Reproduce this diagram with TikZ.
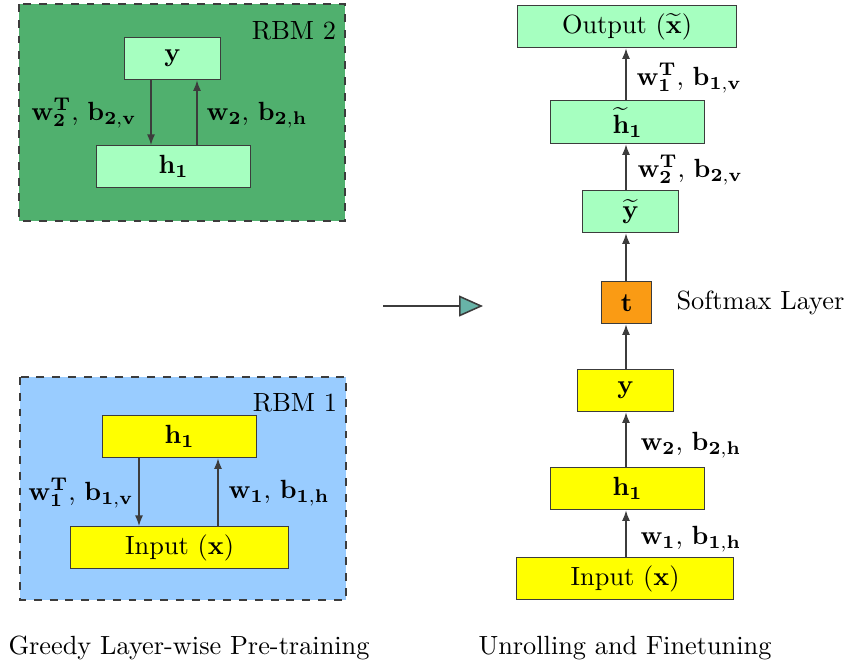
\documentclass[tikz,border=0pt]{standalone}
\usetikzlibrary{arrows.meta}
\definecolor{rbmgreen}{RGB}{80,176,110}
\definecolor{rbmblue}{RGB}{153,204,255}
\definecolor{lgreen}{RGB}{166,255,192}
\definecolor{lyellow}{RGB}{255,255,0}
\definecolor{torange}{RGB}{250,155,20}
\definecolor{teal2}{RGB}{104,180,168}
\definecolor{edgegray}{RGB}{60,60,60}
\tikzset{
  px/.style={x=0.38pt,y=-0.38pt},
  rbmpanel/.style={draw=edgegray,dashed,line width=0.6pt},
  layerbox/.style={draw=edgegray,line width=0.5pt,inner sep=0pt,anchor=north west},
  conn/.style={draw=edgegray,line width=0.5pt,-{Latex[length=4pt,width=3pt]}},
  lab/.style={inner sep=0pt},
}
\begin{document}
\begin{tikzpicture}[px]
\useasboundingbox (0,0) rectangle (847,666);
% panels
\draw[rbmpanel,fill=rbmgreen] (19,4) rectangle (345,221);
\draw[rbmpanel,fill=rbmblue] (20,377) rectangle (346,600);
\node[lab] (rbm2) at (294,31) {RBM 2};
\node[lab] (rbm1) at (295,403) {RBM 1};
% RBM 2
\node[layerbox,fill=lgreen,minimum width=96*0.38pt,minimum height=42*0.38pt] (ry) at (124,37) {$\mathbf{y}$};
\node[layerbox,fill=lgreen,minimum width=154*0.38pt,minimum height=42*0.38pt] (rh2) at (96,145) {$\mathbf{h_1}$};
\draw[conn] (ry.south -| 151,0) -- (rh2.north -| 151,0);
\draw[conn] (rh2.north -| 197,0) -- (ry.south -| 197,0);
\node[lab] (l2v) at (84,113) {$\mathbf{w_2^T}$, $\mathbf{b_{2,v}}$};
\node[lab] (l2h) at (257,115) {$\mathbf{w_2}$, $\mathbf{b_{2,h}}$};
% RBM 1
\node[layerbox,fill=lyellow,minimum width=154*0.38pt,minimum height=42*0.38pt] (rh1) at (102,415) {$\mathbf{h_1}$};
\node[layerbox,fill=lyellow,minimum width=218*0.38pt,minimum height=42*0.38pt] (rin) at (70,526) {Input ($\mathbf{x}$)};
\draw[conn] (rh1.south -| 139,0) -- (rin.north -| 139,0);
\draw[conn] (rin.north -| 218,0) -- (rh1.south -| 218,0);
\node[lab] (l1v) at (81,493) {$\mathbf{w_1^T}$, $\mathbf{b_{1,v}}$};
\node[lab] (l1h) at (279,493) {$\mathbf{w_1}$, $\mathbf{b_{1,h}}$};
% middle arrow
\coordinate (ma) at (383,306);
\coordinate (mb) at (483,306);
\draw[edgegray,line width=0.6pt,-{Triangle[length=24*0.38pt,width=21*0.38pt,fill=teal2]}] (ma) -- (mb);
% right column
\node[layerbox,fill=lgreen,minimum width=219*0.38pt,minimum height=42*0.38pt] (out) at (517,5) {Output ($\widetilde{\mathbf{x}}$)};
\node[layerbox,fill=lgreen,minimum width=154*0.38pt,minimum height=43*0.38pt] (th) at (550,100) {$\widetilde{\mathbf{h}}_{\mathbf{1}}$};
\node[layerbox,fill=lgreen,minimum width=96*0.38pt,minimum height=42*0.38pt] (ty) at (582,190) {$\widetilde{\mathbf{y}}$};
\node[layerbox,fill=torange,minimum width=50*0.38pt,minimum height=42*0.38pt] (t) at (601,281) {$\mathbf{t}$};
\node[layerbox,fill=lyellow,minimum width=96*0.38pt,minimum height=42*0.38pt] (y) at (577,369) {$\mathbf{y}$};
\node[layerbox,fill=lyellow,minimum width=154*0.38pt,minimum height=42*0.38pt] (h) at (550,467) {$\mathbf{h_1}$};
\node[layerbox,fill=lyellow,minimum width=217*0.38pt,minimum height=42*0.38pt] (in) at (516,557) {Input ($\mathbf{x}$)};
\draw[conn] (in.north -| 626,0) -- (h.south -| 626,0);
\draw[conn] (h.north -| 626,0) -- (y.south -| 626,0);
\draw[conn] (y.north -| 626,0) -- (t.south -| 626,0);
\draw[conn] (t.north -| 626,0) -- (ty.south -| 626,0);
\draw[conn] (ty.north -| 626,0) -- (th.south -| 626,0);
\draw[conn] (th.north -| 626,0) -- (out.south -| 626,0);
\node[lab,anchor=west] (u1v) at (636,78) {$\mathbf{w_1^T}$, $\mathbf{b_{1,v}}$};
\node[lab,anchor=west] (u2v) at (637,170) {$\mathbf{w_2^T}$, $\mathbf{b_{2,v}}$};
\node[lab,anchor=west] (soft) at (676,303) {Softmax Layer};
\node[lab,anchor=west] (u2h) at (640,445) {$\mathbf{w_2}$, $\mathbf{b_{2,h}}$};
\node[lab,anchor=west] (u1h) at (640,539) {$\mathbf{w_1}$, $\mathbf{b_{1,h}}$};
% captions
\node[lab,anchor=west] (cap1) at (8,648) {Greedy Layer-wise Pre-training};
\node[lab,anchor=west] (cap2) at (478,648) {Unrolling and Finetuning};
\end{tikzpicture}
\end{document}
